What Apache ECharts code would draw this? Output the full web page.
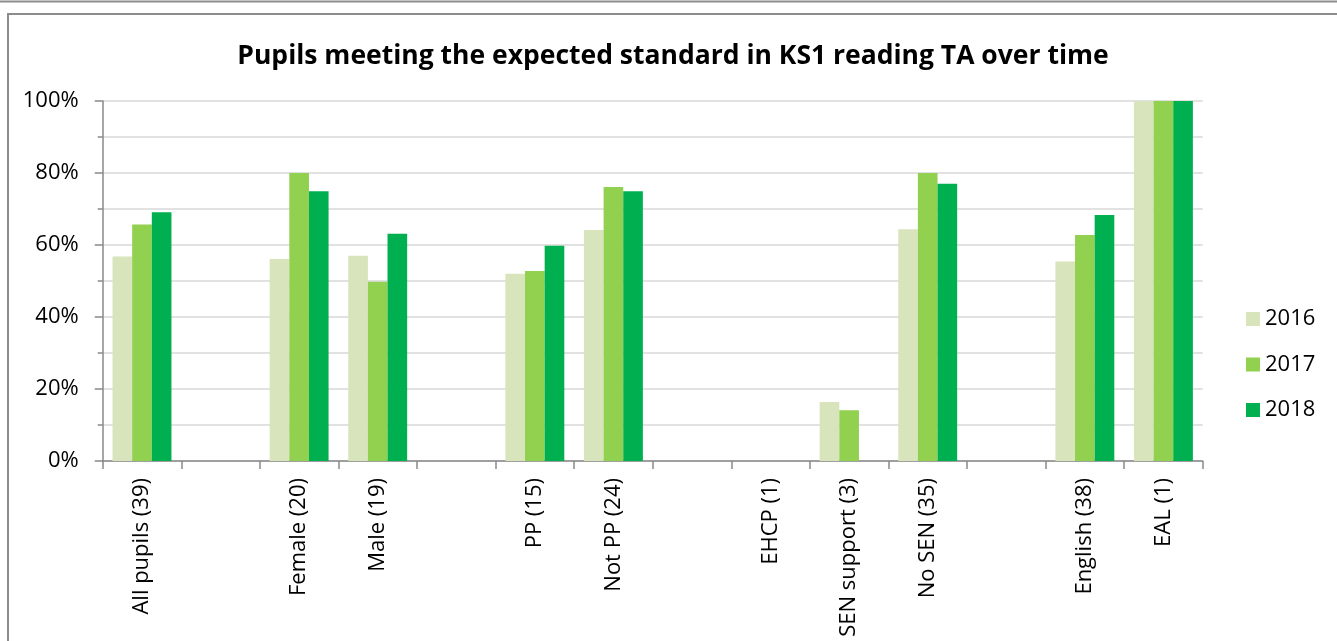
<!DOCTYPE html>
<html>
<head>
<meta charset="utf-8">
<script src="https://cdn.jsdelivr.net/npm/echarts@6/dist/echarts.min.js"></script>
<style>
html,body{margin:0;padding:0;background:#fff;}
#chart{width:1337px;height:641px;}
</style>
</head>
<body>
<div id="chart"></div>
<script>
var titleText = 'Pupils meeting the expected standard in KS1 reading TA over time';
var categories = ['All pupils (39)', '', 'Female (20)', 'Male (19)', '', 'PP (15)', 'Not PP (24)', '', 'EHCP (1)', 'SEN support (3)', 'No SEN (35)', '', 'English (38)', 'EAL (1)'];
var seriesNames = ['2016', '2017', '2018'];
var values2016 = [56.8, null, 56.1, 57.0, null, 52.0, 64.2, null, null, 16.4, 64.4, null, 55.4, 100];
var values2017 = [65.7, null, 80.0, 49.8, null, 52.8, 76.1, null, null, 14.1, 80.0, null, 62.8, 100];
var values2018 = [69.1, null, 74.9, 63.1, null, 59.8, 74.9, null, null, null, 77.0, null, 68.3, 100];
var colors = ['#D8E4BC', '#92D050', '#00B050'];

var FONT = 'Open Sans';
var chart = echarts.init(document.getElementById('chart'), null, {renderer: 'canvas'});
var allValues = [values2016, values2017, values2018];
var series = seriesNames.map(function (n, i) {
  return {
    name: n,
    type: 'bar',
    data: allValues[i],
    barGap: '0%',
    barCategoryGap: '25%',
    itemStyle: {color: colors[i]},
    emphasis: {disabled: true}
  };
});

chart.setOption({
  animation: false,
  backgroundColor: '#fff',
  textStyle: {fontFamily: FONT},
  title: {
    text: titleText,
    left: 668,
    top: 38,
    textAlign: 'center',
    textStyle: {fontFamily: FONT, fontWeight: 'bold', fontSize: 26.5, color: '#000'}
  },
  legend: {
    orient: 'vertical',
    left: 1241,
    top: 303,
    itemWidth: 14,
    itemHeight: 14,
    itemGap: 23.5,
    icon: 'rect',
    textStyle: {fontFamily: FONT, fontSize: 22, color: '#000', padding: [0, 0, 0, 0]},
    data: seriesNames
  },
  grid: {left: 102.7, right: 134.3, top: 101, bottom: 180, containLabel: false},
  xAxis: {
    type: 'category',
    data: categories,
    axisLine: {lineStyle: {color: '#898989', width: 1.5}},
    axisTick: {show: true, length: 8, lineStyle: {color: '#898989', width: 1.5}, alignWithLabel: false},
    axisLabel: {interval: 0, rotate: 90, margin: 17, fontFamily: FONT, fontSize: 22, color: '#000'}
  },
  yAxis: {
    type: 'value',
    min: 0,
    max: 100,
    interval: 20,
    axisLine: {show: true, lineStyle: {color: '#898989', width: 1.5}},
    axisTick: {show: true, length: 8, lineStyle: {color: '#898989', width: 1.5}},
    minorTick: {show: true, splitNumber: 2, length: 5, lineStyle: {color: '#898989', width: 1.5}},
    splitLine: {show: true, lineStyle: {color: '#D9D9D9', width: 1.5}},
    minorSplitLine: {show: true, lineStyle: {color: '#D9D9D9', width: 1.5}},
    axisLabel: {formatter: '{value}%', margin: 24, fontFamily: FONT, fontSize: 22, color: '#000'}
  },
  graphic: [
    {type: 'line', shape: {x1: 0, y1: 1.5, x2: 1337, y2: 1.5}, style: {stroke: '#8c8c8c', lineWidth: 2}, silent: true},
    {type: 'rect', shape: {x: 8, y: 14, width: 1340, height: 640}, style: {fill: 'none', stroke: '#8c8c8c', lineWidth: 2}, silent: true, z: -1}
  ],
  series: series
});
</script>
</body>
</html>
